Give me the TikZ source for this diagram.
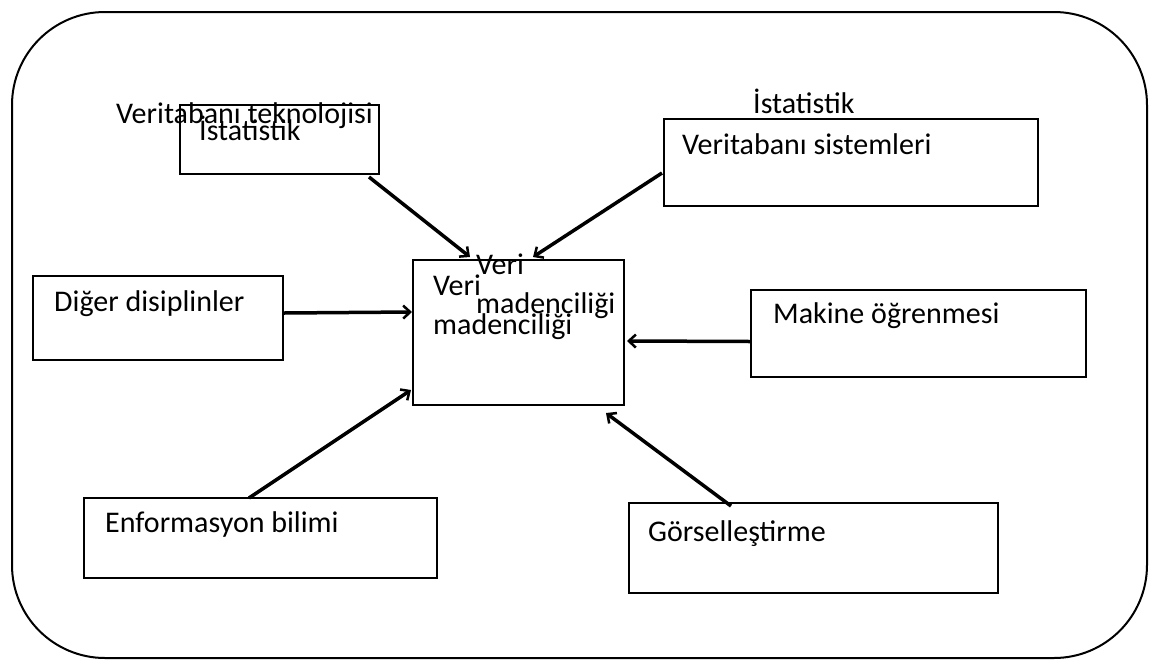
\documentclass[tikz,border=0pt]{standalone}
\usepackage{fontspec}
\setmainfont{Carlito}
\usetikzlibrary{arrows.meta}
\begin{document}
\begin{tikzpicture}[x=1pt,y=-1pt,
  box/.style={draw, line width=2pt, inner sep=0pt, anchor=north west},
  lbl/.style={anchor=base west, inner sep=0pt, font=\fontsize{30}{36}\selectfont},
  link/.style={line width=3.5pt, -{Straight Barb[length=7pt,width=13pt,line width=2.5pt]}},
]
\useasboundingbox (0,0) rectangle (1149,662);
% outer frame
\draw[line width=2pt, rounded corners=93pt] (12,12) rectangle (1147,658);

% boxes
\node[box, minimum width=199pt, minimum height=69pt] (stat) at (179,104) {};
\node[box, minimum width=374pt, minimum height=87pt] (dbs) at (663,118) {};
\node[box, minimum width=211pt, minimum height=145pt] (dm) at (412,259) {};
\node[box, minimum width=250pt, minimum height=84pt] (other) at (32,275) {};
\node[box, minimum width=335pt, minimum height=87pt] (ml) at (750,289) {};
\node[box, minimum width=353pt, minimum height=80pt] (info) at (83,497) {};
\node[box, minimum width=369pt, minimum height=90pt] (vis) at (628,502) {};

% texts
\node[lbl] (t1) at (116,123) {Veritabanı teknolojisi};
\node[lbl] (t2) at (199,140) {İstatistik};
\node[lbl] (t3) at (753,113) {İstatistik};
\node[lbl] (t4) at (682,154) {Veritabanı sistemleri};
\node[lbl] (t5a) at (433,295) {Veri};
\node[lbl] (t5b) at (433,334) {madenciliği};
\node[lbl] (t6a) at (476,274) {Veri};
\node[lbl] (t6b) at (476,313) {madenciliği};
\node[lbl] (t7) at (54,311) {Diğer disiplinler};
\node[lbl] (t8) at (773,323) {Makine öğrenmesi};
\node[lbl] (t9) at (105,532) {Enformasyon bilimi};
\node[lbl] (t10) at (648,541) {Görselleştirme};

% connectors into the central box
\draw[link] ([shift={(-11,2)}]stat.south east) -- ([shift={(58,-2)}]dm.north west);
\draw[link] ([shift={(-1,55)}]dbs.north west) -- ([shift={(121,-2)}]dm.north west);
\draw[link] ([shift={(0,-5)}]other.east) -- ([shift={(0,53)}]dm.north west);
\draw[link] ([shift={(0,8)}]ml.west) -- ([shift={(2,8.5)}]dm.east);
\draw[link] ([shift={(166,1)}]info.north west) -- ([shift={(-1,-16)}]dm.south west);
\draw[link] ([shift={(103,4)}]vis.north west) -- ([shift={(-19,7)}]dm.south east);
\end{tikzpicture}
\end{document}
